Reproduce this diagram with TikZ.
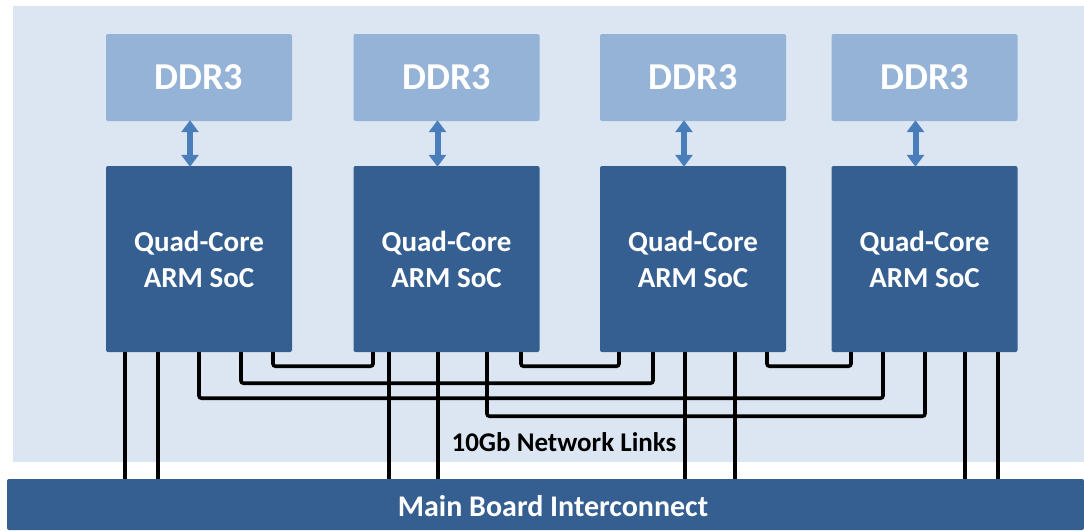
\documentclass[tikz,border=0pt]{standalone}
\usepackage{fontspec}
\setmainfont{Carlito}
\usetikzlibrary{arrows.meta}
\definecolor{panelc}{HTML}{DCE6F2}
\definecolor{ddrc}{HTML}{95B3D7}
\definecolor{socc}{HTML}{365F91}
\definecolor{mbc}{HTML}{365F91}
\definecolor{arrc}{HTML}{4A7EBB}
\tikzset{
  ddrbox/.style={fill=ddrc, rounded corners=2pt, minimum width=186pt, minimum height=87pt, inner sep=0pt,
    text=white, font=\bfseries\fontsize{38}{44}\selectfont},
  socbox/.style={fill=socc, rounded corners=2pt, minimum width=186pt, minimum height=186pt, inner sep=0pt,
    text=white, align=center, font=\bfseries\fontsize{29}{36}\selectfont},
  memlink/.style={arrc, line width=6pt, {Triangle[width=17pt,length=12pt]}-{Triangle[width=17pt,length=12pt]}, shorten <=-1pt, shorten >=-1pt},
  wire/.style={black, line width=3.6pt, rounded corners=2.5pt},
}
\begin{document}
\begin{tikzpicture}[x=1pt,y=-1pt]
\useasboundingbox (0,0) rectangle (1084,530);
\fill[white] (0,0) rectangle (1084,530);
\fill[panelc] (13,6) rectangle (1084,462);
% main board
\node[fill=mbc, rounded corners=2pt, minimum width=1077pt, minimum height=51pt, inner sep=0pt] (mb) at (545.5,504.5) {};
\node[text=white, font=\bfseries\fontsize{30}{36}\selectfont, inner sep=0pt] (mblabel) at (553,506) {Main Board Interconnect};
% DDR3 boxes
\node[ddrbox] (d1) at (199,77.5) {DDR3};
\node[ddrbox] (d2) at (446.5,77.5) {DDR3};
\node[ddrbox] (d3) at (693,77.5) {DDR3};
\node[ddrbox] (d4) at (924.5,77.5) {DDR3};
% SoCs
\node[socbox] (s1) at (199,259) {Quad-Core\\ARM SoC};
\node[socbox] (s2) at (446.5,259) {Quad-Core\\ARM SoC};
\node[socbox] (s3) at (693,259) {Quad-Core\\ARM SoC};
\node[socbox] (s4) at (924.5,259) {Quad-Core\\ARM SoC};
% memory links
\foreach \i in {1,2,3,4}{
  \draw[memlink] ([xshift=-9pt]d\i.south) -- ([xshift=-9pt]s\i.north);
}
% pins
\coordinate (p11) at ([xshift=-74pt]s1.south);
\coordinate (p12) at ([xshift=-41pt]s1.south);
\coordinate (p13) at ([xshift=0pt]s1.south);
\coordinate (p14) at ([xshift=42pt]s1.south);
\coordinate (p15) at ([xshift=74pt]s1.south);
\coordinate (p21) at ([xshift=-73.5pt]s2.south);
\coordinate (p22) at ([xshift=-57.5pt]s2.south);
\coordinate (p23) at ([xshift=-8.5pt]s2.south);
\coordinate (p24) at ([xshift=40.5pt]s2.south);
\coordinate (p25) at ([xshift=74.5pt]s2.south);
\coordinate (p31) at ([xshift=-74pt]s3.south);
\coordinate (p32) at ([xshift=-40pt]s3.south);
\coordinate (p33) at ([xshift=-8pt]s3.south);
\coordinate (p34) at ([xshift=42pt]s3.south);
\coordinate (p35) at ([xshift=74pt]s3.south);
\coordinate (p41) at ([xshift=-73.5pt]s4.south);
\coordinate (p42) at ([xshift=-41.5pt]s4.south);
\coordinate (p43) at ([xshift=0.5pt]s4.south);
\coordinate (p44) at ([xshift=40.5pt]s4.south);
\coordinate (p45) at ([xshift=73.5pt]s4.south);
% links to main board
\foreach \p in {p11,p12,p22,p23,p33,p34,p44,p45}{
  \draw[wire] (\p) -- (\p |- mb.north);
}
% network links between SoCs
\draw[wire] (p15) -- ++(0,14) -| (p21);
\draw[wire] (p25) -- ++(0,14) -| (p31);
\draw[wire] (p35) -- ++(0,14) -| (p41);
\draw[wire] (p14) -- ++(0,31) -| (p32);
\draw[wire] (p13) -- ++(0,46) -| (p42);
\draw[wire] (p24) -- ++(0,64) -| (p43);
\node[font=\bfseries\fontsize{27}{32}\selectfont, inner sep=0pt] (netlabel) at (564,442) {10Gb Network Links};
\end{tikzpicture}
\end{document}
